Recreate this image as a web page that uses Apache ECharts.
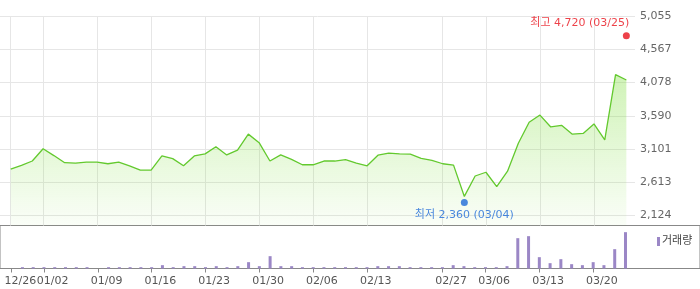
<!DOCTYPE html>
<html><head><meta charset="utf-8">
<script src="https://cdn.jsdelivr.net/npm/echarts@6/dist/echarts.min.js"></script>
<style>html,body{margin:0;padding:0;background:#fff}#c{width:700px;height:289px}</style>
</head><body><div id="c"></div>
<script>
// ---- data ----
const dates = ['12/26','12/29','12/30','01/02','01/05','01/06','01/07','01/08','01/09','01/12',
  '01/13','01/14','01/15','01/16','01/19','01/20','01/21','01/22','01/23','01/26',
  '01/27','01/28','01/29','01/30','02/02','02/03','02/04','02/05','02/06','02/09',
  '02/10','02/11','02/12','02/13','02/16','02/17','02/23','02/24','02/25','02/26',
  '02/27','03/03','03/04','03/05','03/06','03/09','03/10','03/11','03/12','03/13',
  '03/16','03/17','03/18','03/19','03/20','03/23','03/24','03/25'];
const closes = [2805,2860,2925,3105,3005,2900,2895,2910,2910,2885,
  2910,2855,2790,2790,3000,2960,2855,3000,3030,3135,
  3015,3085,3320,3195,2925,3015,2950,2870,2870,2925,
  2925,2945,2895,2855,3010,3040,3030,3025,2965,2935,
  2885,2865,2405,2705,2760,2550,2775,3185,3495,3600,
  3425,3450,3320,3330,3470,3235,4195,4115];
const volumes = [0,40,40,40,40,40,40,40,0,40,
  40,40,40,40,100,40,70,70,40,70,
  40,70,190,70,370,70,70,40,40,40,
  40,40,40,40,70,70,70,40,40,40,
  40,100,70,40,40,40,70,910,970,340,
  160,280,130,100,190,100,580,1090];
const tickDates = ['12/26','01/02','01/09','01/16','01/23','01/30','02/06','02/13','02/27','03/06','03/13','03/20'];
const yTicks = [2124, 2612.5, 3101, 3589.5, 4078, 4566.5, 5055];
const highPoint = ['03/25', 4720];
const lowPoint = ['03/04', 2360];
const highText = '최고';
const lowText = '최저';
const volumeName = '거래량';

// ---- chart ----
const FONT = "'DejaVu Sans','Noto Sans CJK KR',sans-serif";
const fmt = v => Math.round(v).toLocaleString('en-US');
const tickIdx = tickDates.map(d => dates.indexOf(d));
const LABEL_SHIFT = 0.81;
const priceData = closes.map((v, i) => [i, v]);
const volData = volumes.map((v, i) => [i, v]);

const chart = echarts.init(document.getElementById('c'), null, {renderer: 'canvas'});
chart.setOption({
  animation: false,
  textStyle: {fontFamily: FONT},
  grid: [
    {left: 0, right: 65, top: 16, bottom: 63.5},
    {left: -1, right: -1, top: 225.5, bottom: 20.5, show: true, borderColor: '#888', borderWidth: 1, backgroundColor: 'transparent'}
  ],
  legend: {
    data: [{name: volumeName, icon: 'rect'}],
    left: 652, top: 231, itemWidth: 3, itemHeight: 9,
    textStyle: {fontSize: 11, color: '#444', fontFamily: FONT, padding: [0, 0, 0, -3]}
  },
  xAxis: [
    {type: 'value', gridIndex: 0, min: -0.99, max: 57.8,
     axisLine: {show: false}, axisTick: {show: false, customValues: tickIdx},
     axisLabel: {show: false}, splitLine: {show: true, lineStyle: {color: '#e6e6e6'}}},
    {type: 'value', gridIndex: 1, min: -1.083, max: 63.92,
     axisLine: {show: false},
     axisTick: {show: true, customValues: tickIdx, length: 4, lineStyle: {color: '#888'}},
     axisLabel: {customValues: tickIdx.map(i => i + LABEL_SHIFT),
       formatter: v => dates[Math.round(v - LABEL_SHIFT)], color: '#555', fontSize: 11, margin: 7, hideOverlap: false, fontFamily: FONT},
     splitLine: {show: false}}
  ],
  yAxis: [
    {type: 'value', gridIndex: 0, position: 'right', min: 1978, max: 5055,
     axisLine: {show: false}, axisTick: {show: false, customValues: yTicks},
     axisLabel: {customValues: yTicks, formatter: fmt, color: '#666', fontSize: 11, margin: 5, fontFamily: FONT},
     splitLine: {show: true, lineStyle: {color: '#e6e6e6'}}},
    {type: 'value', gridIndex: 1, min: 0, max: 1290, show: false, splitLine: {show: false}}
  ],
  series: [
    {type: 'line', name: 'price', xAxisIndex: 0, yAxisIndex: 0, data: priceData,
     showSymbol: false, symbol: 'none',
     lineStyle: {color: '#63c92e', width: 1.3},
     areaStyle: {color: new echarts.graphic.LinearGradient(0, 0, 0, 1, [
       {offset: 0, color: 'rgba(120,220,50,0.5)'},
       {offset: 1, color: 'rgba(120,220,50,0.05)'}
     ])}},
    {type: 'scatter', name: 'hl', xAxisIndex: 0, yAxisIndex: 0, symbolSize: 7, z: 5,
     data: [
       {value: [dates.indexOf(highPoint[0]), highPoint[1]], symbolOffset: [0, -3],
        itemStyle: {color: '#e8121b'},
        label: {show: true, position: 'top', distance: 4, align: 'right', offset: [3, 0],
          color: '#e8121b', fontSize: 11, fontFamily: FONT,
          formatter: highText + ' ' + fmt(highPoint[1]) + ' (' + highPoint[0] + ')'}},
       {value: [dates.indexOf(lowPoint[0]), lowPoint[1]], symbolOffset: [0, 3],
        itemStyle: {color: '#1e6ad8'},
        label: {show: true, position: 'bottom', distance: 4,
          color: '#1e6ad8', fontSize: 11, fontFamily: FONT,
          formatter: lowText + ' ' + fmt(lowPoint[1]) + ' (' + lowPoint[0] + ')'}}
     ]},
    {type: 'bar', name: volumeName, xAxisIndex: 1, yAxisIndex: 1, data: volData,
     barWidth: 3, itemStyle: {color: '#9b87c6'}}
  ]
});
</script></body></html>
